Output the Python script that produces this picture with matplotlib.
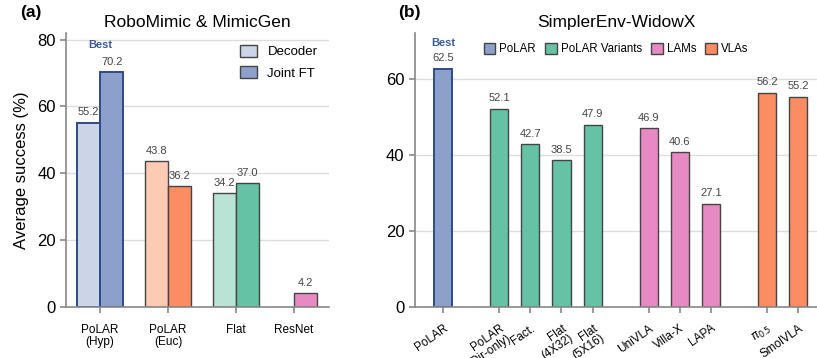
import matplotlib.pyplot as plt
from matplotlib.patches import Patch
import numpy as np

plt.rcParams['font.family'] = ['Liberation Sans', 'DejaVu Sans']
plt.rcParams['mathtext.fontset'] = 'dejavusans'

# panel (a)
groups_a = ['PoLAR\n(Hyp)', 'PoLAR\n(Euc)', 'Flat', 'ResNet']
decoder = [55.2, 43.8, 34.2, None]
joint_ft = [70.2, 36.2, 37.0, 4.2]
light_a = ['#ccd5e8', '#fdcab4', '#b8e3d5', '#e78ac3']
dark_a = ['#8da0cb', '#fc8d62', '#66c2a5', '#e78ac3']

# panel (b)
labels_b = ['PoLAR', 'PoLAR\n(Dir-only)', 'Fact.', 'Flat\n(4X32)', 'Flat\n(5X16)',
            'UniVLA', 'Villa-X', 'LAPA', r'$\pi_{0.5}$', 'SmolVLA']
values_b = [62.5, 52.1, 42.7, 38.5, 47.9, 46.9, 40.6, 27.1, 56.2, 55.2]
kind_b = [0, 1, 1, 1, 1, 2, 2, 2, 3, 3]
kind_names = ['PoLAR', 'PoLAR Variants', 'LAMs', 'VLAs']
kind_colors = ['#8da0cb', '#66c2a5', '#e78ac3', '#fc8d62']

best_edge = '#2d4a8a'
edge = '#444444'
txt = '#444444'
spine_c = '#888888'

fig = plt.figure(figsize=(8.17, 3.58), dpi=100)
ax1 = fig.add_axes([0.081, 0.1425, 0.322, 0.7655])
ax2 = fig.add_axes([0.508, 0.1425, 0.492, 0.7655])

for ax in (ax1, ax2):
    ax.spines['top'].set_visible(False)
    ax.spines['right'].set_visible(False)
    for s in ('left', 'bottom'):
        ax.spines[s].set_color(spine_c)
        ax.spines[s].set_linewidth(1.2)
    ax.tick_params(colors=spine_c, labelcolor='black', width=1.2, length=4)
    ax.yaxis.grid(True, color='#dddddd', linewidth=1)
    ax.set_axisbelow(True)

# ---- (a)
w = 0.34
pos_a = np.array([0, 1, 2, 2.85])
for i, x in enumerate(pos_a):
    ec = best_edge if i == 0 else edge
    lw = 1.4 if i == 0 else 1.0
    if decoder[i] is not None:
        ax1.bar(x - w / 2, decoder[i], w, color=light_a[i], edgecolor=ec, linewidth=lw)
        ax1.text(x - w / 2, decoder[i] + 1.5, f'{decoder[i]:.1f}', ha='center', va='bottom',
                 fontsize=8, color=txt)
    ax1.bar(x + w / 2, joint_ft[i], w, color=dark_a[i], edgecolor=ec, linewidth=lw)
    ax1.text(x + w / 2, joint_ft[i] + 1.5, f'{joint_ft[i]:.1f}', ha='center', va='bottom',
             fontsize=8, color=txt)
ax1.text(pos_a[0], joint_ft[0] + 6.8, 'Best', ha='center', va='bottom', fontsize=8,
         fontweight='bold', color='#3a5a9a')

ax1.set_xticks(pos_a)
ax1.set_xticklabels(groups_a, fontsize=8.5, linespacing=1.0)
ax1.tick_params(axis='x', pad=8)
ax1.set_xlim(-0.5, 3.37)
ax1.set_ylim(0, 82)
ax1.set_yticks([0, 20, 40, 60, 80])
ax1.tick_params(axis='y', labelsize=12)
ax1.set_ylabel('Average success (%)', fontsize=12, labelpad=6)
ax1.set_title('RoboMimic & MimicGen', fontsize=12.5, pad=4)
ax1.legend(handles=[Patch(facecolor='#ccd5e8', edgecolor=edge, label='Decoder'),
                    Patch(facecolor='#8da0cb', edgecolor=edge, label='Joint FT')],
           loc='upper right', frameon=False, fontsize=9.5, bbox_to_anchor=(1.0, 1.0),
           handlelength=1.3, handleheight=1.0, labelspacing=0.6)

# ---- (b)
pos_b = np.array([0, 1.8, 2.8, 3.8, 4.8, 6.6, 7.6, 8.6, 10.4, 11.4])
wb = 0.58
for x, v, k in zip(pos_b, values_b, kind_b):
    ec = best_edge if k == 0 else edge
    lw = 1.4 if k == 0 else 1.0
    ax2.bar(x, v, wb, color=kind_colors[k], edgecolor=ec, linewidth=lw)
    ax2.text(x, v + 1.5, f'{v:.1f}', ha='center', va='bottom', fontsize=8, color=txt)
ax2.text(pos_b[0], values_b[0] + 5.6, 'Best', ha='center', va='bottom', fontsize=8,
         fontweight='bold', color='#3a5a9a')
ax2.set_xticks(pos_b)
ax2.set_xticklabels(labels_b, fontsize=8.5, rotation=35, ha='right', rotation_mode='anchor',
                    linespacing=1.0)
ax2.tick_params(axis='x', pad=7)
ax2.set_xlim(-0.9, 12.0)
ax2.set_ylim(0, 72)
ax2.set_yticks([0, 20, 40, 60])
ax2.tick_params(axis='y', labelsize=12)
ax2.set_title('SimplerEnv-WidowX', fontsize=12.5, pad=4)
ax2.legend(handles=[Patch(facecolor=c, edgecolor=edge, label=n)
                    for c, n in zip(kind_colors, kind_names)],
           loc='upper center', ncol=4, frameon=False, fontsize=8.3,
           bbox_to_anchor=(0.5, 1.0), handlelength=1.0, handleheight=1.0,
           columnspacing=0.8, handletextpad=0.35)

fig.text(0.025, 0.965, '(a)', fontsize=12.5, fontweight='bold', va='center')
fig.text(0.487, 0.965, '(b)', fontsize=12.5, fontweight='bold', va='center')

fig.savefig('out.png', dpi=100)
